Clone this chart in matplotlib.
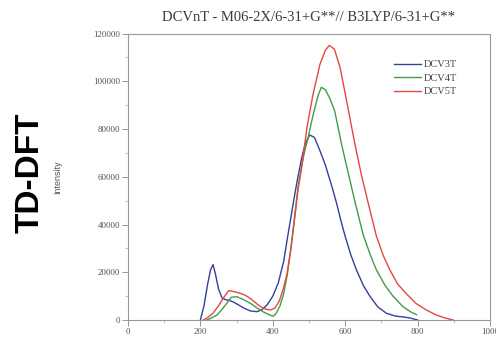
import numpy as np
import matplotlib
matplotlib.use("Agg")
import matplotlib.pyplot as plt

# ===== dados =====
x_3t = [200, 210, 220, 228, 235, 242, 250, 260, 270, 280, 290, 300, 320, 338, 356, 370,
        385, 400, 415, 430, 440, 450, 460, 470, 480, 490, 502, 515, 530, 545, 553, 565,
        576, 590, 600, 615, 631, 650, 668, 690, 714, 740, 760, 780, 800]
y_3t = [0, 6000, 15000, 21000, 23200, 19000, 13000, 9200, 8500, 8200, 7600, 6800, 5000, 3800, 3500, 4300,
        6500, 10000, 15500, 24500, 34000, 43000, 52000, 60500, 68000, 74000, 77500, 76500, 71000, 65000, 61000, 55000,
        49000, 40500, 35000, 27500, 21000, 14500, 10000, 5500, 2800, 1600, 1300, 800, 0]

x_4t = [218, 230, 246, 260, 274, 285, 300, 320, 340, 356, 375, 393, 402, 410, 420, 430,
        440, 450, 460, 470, 480, 490, 497, 507, 516, 525, 534, 545, 557, 571, 580, 590,
        600, 610, 627, 650, 670, 686, 710, 732, 760, 780, 797]
y_4t = [0, 800, 2100, 4500, 7200, 9500, 9800, 8500, 6800, 5100, 3300, 2000, 1600, 3000, 6000, 11000,
        19000, 30000, 43000, 56000, 65000, 72000, 76000, 83000, 88800, 94000, 97500, 96500, 93000, 87500, 81000, 73500,
        67000, 60500, 49500, 35500, 27000, 21000, 14500, 10000, 5500, 3500, 2200]

x_5t = [208, 220, 236, 250, 264, 278, 290, 310, 325, 338, 352, 366, 380, 393, 406, 418,
        430, 440, 450, 460, 470, 480, 494, 511, 530, 545, 556, 570, 586, 604, 620, 631,
        645, 663, 686, 705, 723, 745, 769, 795, 824, 850, 875, 898]
y_5t = [0, 1000, 3000, 6000, 9300, 12300, 12000, 11200, 10300, 9000, 7300, 5600, 4600, 4200, 5000, 8000,
        13500, 20000, 30000, 42000, 55000, 64000, 80300, 94500, 107000, 113000, 115000, 113500, 105700, 91700, 79000, 70600,
        60600, 49300, 35200, 27000, 21100, 15000, 11000, 7000, 4200, 2200, 900, 0]

series = ["DCV3T", "DCV4T", "DCV5T"]
cores  = ["#34409a", "#3f9e45", "#e5483f"]

# ===== figura =====
fig = plt.figure(figsize=(4.96, 3.39), dpi=100)
ax = fig.add_axes([0.258, 0.056, 0.730, 0.845])

for xs, ys, nome, cor in zip([x_3t, x_4t, x_5t], [y_3t, y_4t, y_5t], series, cores):
    ax.plot(xs, ys, color=cor, linewidth=1.0, label=nome)

ax.set_xlim(0, 1000)
ax.set_ylim(0, 120000)
ax.set_xticks(np.arange(0, 1001, 200))
ax.set_xticks(np.arange(0, 1001, 100), minor=True)
ax.set_yticks(np.arange(0, 120001, 20000))
ax.set_yticks(np.arange(0, 120001, 10000), minor=True)
ax.set_xticklabels(["0", "200", "400", "600", "800", "1000"])

for s in ax.spines.values():
    s.set_color("#999999")
    s.set_linewidth(0.8)

ax.tick_params(which="major", length=4.3, width=0.6, colors="#888888", labelcolor="#555555",
               labelsize=6.5, pad=1.5)
ax.tick_params(which="minor", length=2.5, width=0.5, colors="#aaaaaa")
for lbl in ax.get_xticklabels() + ax.get_yticklabels():
    lbl.set_family("Liberation Serif")

ax.set_title("DCVnT - M06-2X/6-31+G**// B3LYP/6-31+G**", fontsize=10.5,
             family="Liberation Serif", color="#3a3a3a", pad=9)
ax.set_ylabel("Intensity", fontsize=6.5, family="Liberation Sans", color="#555555", labelpad=22)

leg = ax.legend(loc="upper right", frameon=False, handlelength=2.6,
                handletextpad=0.3, labelspacing=0.4, bbox_to_anchor=(0.935, 0.94),
                prop={"family": "Liberation Serif", "size": 7.5})
for t in leg.get_texts():
    t.set_color("#444444")

fig.text(0.06, 0.49, "TD-DFT", rotation=90, fontsize=24, fontweight="bold",
         family="Liberation Sans", ha="center", va="center", color="black")

fig.savefig("out.png", dpi=100)
